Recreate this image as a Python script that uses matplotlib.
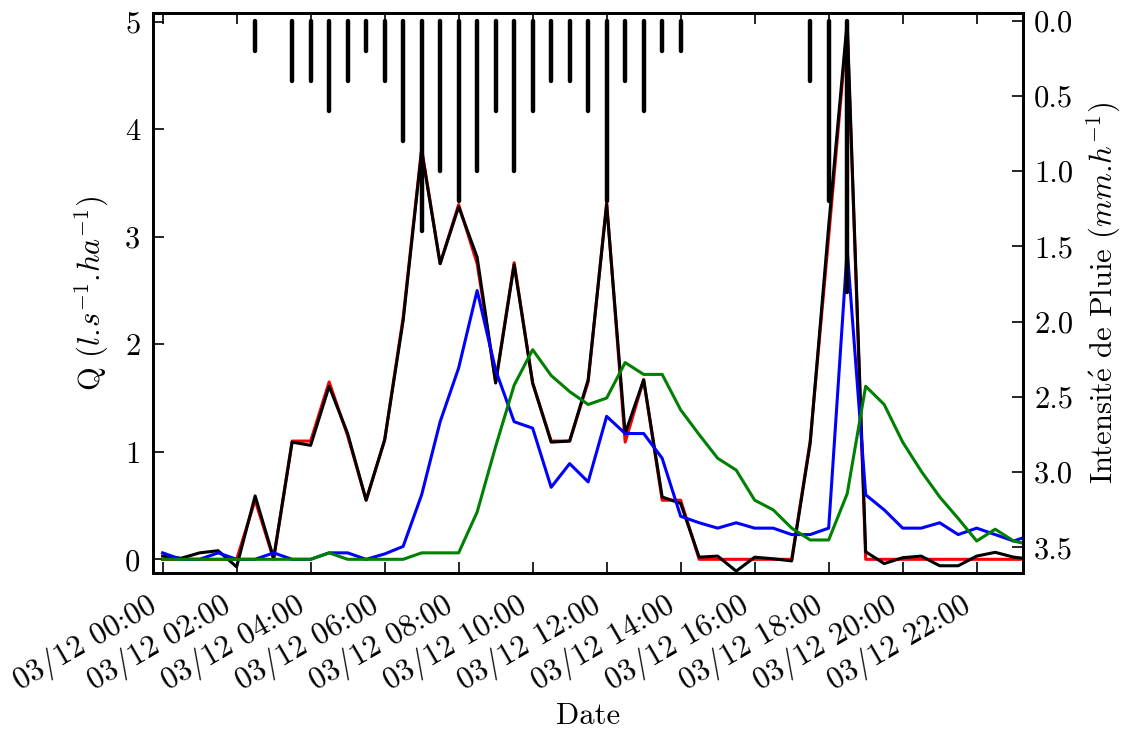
import matplotlib
matplotlib.use("Agg")
import matplotlib.pyplot as plt
import matplotlib.dates as mdates
import numpy as np
import pandas as pd

# ---- data (half-hourly, 03/12 00:00 -> 23:30) ----
start_time = "2013-12-03 00:00"
n_steps = 48

q_measured = [0.03, 0.01, 0.06, 0.08, -0.07, 0.59, 0.01, 1.09, 1.06, 1.61,
              1.17, 0.55, 1.11, 2.22, 3.80, 2.75, 3.28, 2.81, 1.64, 2.74,
              1.64, 1.09, 1.10, 1.67, 3.30, 1.17, 1.67, 0.58, 0.52, 0.02,
              0.03, -0.11, 0.02, 0.005, -0.015, 1.08, 3.10, 5.00, 0.07, -0.04,
              0.015, 0.03, -0.06, -0.06, 0.03, 0.065, 0.02, 0.00]

q_red = [0.0, 0.0, 0.0, 0.0, 0.0, 0.55, 0.0, 1.10, 1.10, 1.65,
         1.15, 0.55, 1.11, 2.25, 3.82, 2.75, 3.30, 2.75, 1.65, 2.76,
         1.64, 1.10, 1.10, 1.65, 3.32, 1.09, 1.67, 0.55, 0.55, 0.0,
         0.0, 0.0, 0.0, 0.0, 0.0, 1.10, 3.00, 4.95, 0.0, 0.0,
         0.0, 0.0, 0.0, 0.0, 0.0, 0.0, 0.0, 0.0]

q_blue = [0.06, 0.0, 0.0, 0.06, 0.0, 0.0, 0.06, 0.0, 0.0, 0.06,
          0.06, 0.0, 0.05, 0.12, 0.60, 1.28, 1.78, 2.50, 1.76, 1.28,
          1.22, 0.67, 0.89, 0.72, 1.33, 1.17, 1.17, 0.94, 0.40, 0.34,
          0.29, 0.34, 0.29, 0.29, 0.23, 0.23, 0.29, 2.88, 0.60, 0.46,
          0.29, 0.29, 0.34, 0.23, 0.29, 0.23, 0.17, 0.23]

q_green = [0.0, 0.0, 0.0, 0.0, 0.0, 0.0, 0.0, 0.0, 0.0, 0.06,
           0.0, 0.0, 0.0, 0.0, 0.06, 0.06, 0.06, 0.44, 1.05, 1.62,
           1.95, 1.71, 1.56, 1.44, 1.50, 1.83, 1.72, 1.72, 1.39, 1.16,
           0.94, 0.83, 0.55, 0.46, 0.29, 0.18, 0.18, 0.61, 1.61, 1.44,
           1.09, 0.82, 0.58, 0.38, 0.17, 0.28, 0.17, 0.13]

rain = [0.0, 0.0, 0.0, 0.0, 0.0, 0.2, 0.0, 0.4, 0.4, 0.6,
        0.4, 0.2, 0.4, 0.8, 1.4, 1.0, 1.2, 1.0, 0.6, 1.0,
        0.6, 0.4, 0.4, 0.6, 1.2, 0.4, 0.6, 0.2, 0.2, 0.0,
        0.0, 0.0, 0.0, 0.0, 0.0, 0.4, 1.2, 1.8, 0.0, 0.0,
        0.0, 0.0, 0.0, 0.0, 0.0, 0.0, 0.0, 0.0]

left_ticks = [0, 1, 2, 3, 4, 5]
right_ticks = [0.0, 0.5, 1.0, 1.5, 2.0, 2.5, 3.0, 3.5]

times = pd.date_range(start_time, periods=n_steps, freq="30min")

# ---- style ----
plt.rcParams["mathtext.fontset"] = "cm"
plt.rcParams["font.family"] = ["cmr10", "DejaVu Serif"]
plt.rcParams["axes.formatter.use_mathtext"] = True
plt.rcParams["axes.unicode_minus"] = False
FS = 22

fig = plt.figure(figsize=(11.24, 7.29), dpi=100)
ax = fig.add_axes([0.1359, 0.2136, 0.7742, 0.7690])
ax2 = ax.twinx()

ax.plot(times, q_red, color="red", lw=2.2, zorder=2)
ax.plot(times, q_measured, color="black", lw=2.2, zorder=3)
ax.plot(times, q_blue, color="blue", lw=2.2, zorder=4)
ax.plot(times, q_green, color="green", lw=2.2, zorder=5)

rain_arr = np.array(rain)
mask = rain_arr > 0
ax2.vlines(times[mask], 0, rain_arr[mask], color="black", lw=3.2,
           capstyle="round")

x0 = pd.Timestamp(start_time) - pd.Timedelta(minutes=16)
x1 = pd.Timestamp(start_time) + pd.Timedelta(minutes=1395)
ax.set_xlim(x0, x1)
ax.set_ylim(-0.13, 5.085)
ax2.set_ylim(3.672, -0.053)

ax.set_yticks(left_ticks)
ax.set_yticklabels([str(v) for v in left_ticks])
ax2.set_yticks(right_ticks)
ax2.set_yticklabels([f"{v:.1f}" for v in right_ticks])

ax.xaxis.set_major_locator(mdates.HourLocator(byhour=range(0, 24, 2)))
ax.xaxis.set_major_formatter(mdates.DateFormatter("%d/%m %H:%M"))
for lab in ax.get_xticklabels():
    lab.set_rotation(30)
    lab.set_ha("right")

ax.tick_params(axis="x", direction="in", length=8, width=1.2, top=True,
               labelsize=22.5, pad=12)
ax.tick_params(axis="y", direction="in", length=8, width=1.2, right=False,
               labelsize=FS, pad=9)
ax2.tick_params(axis="y", direction="in", length=8, width=1.2,
                labelsize=FS, pad=8)

for a in (ax, ax2):
    for sp in a.spines.values():
        sp.set_linewidth(2)

ax.set_xlabel("Date", fontsize=FS, labelpad=4)
ax.set_ylabel(r"Q ($l.\!s^{-1}.\!ha^{-1}$)", fontsize=FS, labelpad=10)
ax2.set_ylabel(r"Intensit$\acute{\mathrm{e}}$ de Pluie ($mm.\!h^{-1}$)",
               fontsize=FS, labelpad=8)

fig.savefig("out.png", dpi=100)
